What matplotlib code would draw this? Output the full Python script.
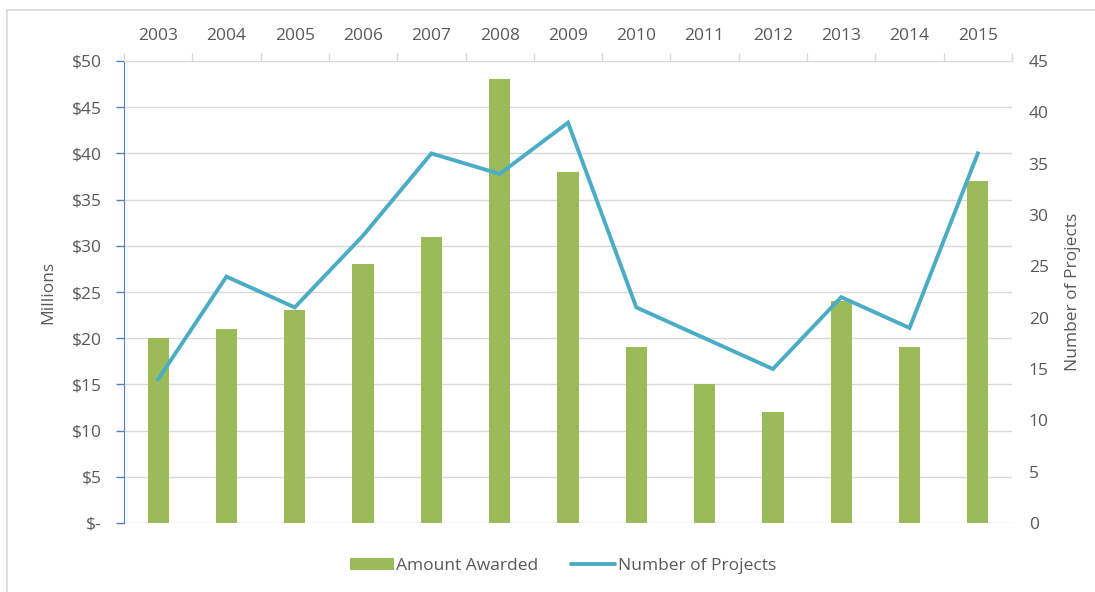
import numpy as np
import matplotlib.pyplot as plt
from matplotlib.lines import Line2D
from matplotlib.patches import Patch

anos = ['2003', '2004', '2005', '2006', '2007', '2008', '2009',
        '2010', '2011', '2012', '2013', '2014', '2015']
valor_concedido = [20, 21, 23, 28, 31, 48, 38, 19, 15, 12, 24, 19, 37]   # milhões de dólares
num_projetos = [14, 24, 21, 28, 36, 34, 39, 21, 18, 15, 22, 19, 36]

verde = '#9BBB59'
azul = '#4BACC6'
cinza_texto = '#595959'
cinza_grade = '#D9D9D9'

plt.rcParams['font.family'] = ['Open Sans', 'DejaVu Sans']
plt.rcParams['font.size'] = 12

fig = plt.figure(figsize=(10.95, 5.92), dpi=100)
ax = fig.add_axes([124 / 1095, 1 - 523 / 592, 888 / 1095, 462 / 592])
ax2 = ax.twinx()

x = np.arange(len(anos))
ax.bar(x, valor_concedido, width=0.31, color=verde, zorder=2)
ax2.plot(x, num_projetos, color=azul, linewidth=2.8, solid_joinstyle='miter', zorder=3)

# eixo esquerdo
ax.set_xlim(-0.5, len(anos) - 0.5)
ax.set_ylim(0, 50)
ax.set_yticks(np.arange(0, 51, 5))
ax.set_yticklabels(['$-'] + [f'${v}' for v in range(5, 51, 5)])
ax.yaxis.grid(True, color=cinza_grade, linewidth=1)
ax.set_axisbelow(True)
ax.tick_params(axis='y', colors='#4F81BD', labelcolor=cinza_texto, length=6, width=1, labelsize=12.5, pad=10)
ax.set_ylabel('Millions', color=cinza_texto, fontsize=12.5, labelpad=11)

# categorias em cima
ax.xaxis.tick_top()
ax.set_xticks(x)
ax.set_xticklabels(anos)
ax.set_xticks(np.arange(-0.5, len(anos), 1), minor=True)
ax.tick_params(axis='x', which='major', length=0, labelcolor=cinza_texto, labelsize=12.5, pad=12)
ax.tick_params(axis='x', which='minor', length=6, color=cinza_grade, width=1)

for lado in ['right', 'bottom']:
    ax.spines[lado].set_visible(False)
ax.spines['left'].set_color('#4F81BD')
ax.spines['top'].set_color(cinza_grade)

# eixo direito
ax2.set_ylim(0, 45)
ax2.set_yticks(np.arange(0, 46, 5))
ax2.tick_params(axis='y', length=0, labelcolor=cinza_texto, labelsize=12.5, pad=12)
ax2.set_ylabel('Number of Projects', color=cinza_texto, fontsize=12.5, labelpad=12)
for s in ax2.spines.values():
    s.set_visible(False)

# legenda
handles = [Patch(facecolor=verde, edgecolor='none'),
           Line2D([0], [0], color=azul, linewidth=2.8, solid_capstyle='round')]
leg = fig.legend(handles, ['Amount Awarded', 'Number of Projects'], loc='center',
                 bbox_to_anchor=(563 / 1095, 1 - 566 / 592), ncol=2, frameon=False,
                 fontsize=12.5, handlelength=2.5, handletextpad=0.15, columnspacing=1.9)
for t in leg.get_texts():
    t.set_color(cinza_texto)

# moldura do gráfico
fig.add_artist(Line2D([7 / 1095, 7 / 1095], [0, 1 - 10 / 592], color=cinza_grade, linewidth=1.2))
fig.add_artist(Line2D([7 / 1095, 1], [1 - 10 / 592, 1 - 10 / 592], color=cinza_grade, linewidth=1.2))

fig.savefig('out.png', dpi=100)
